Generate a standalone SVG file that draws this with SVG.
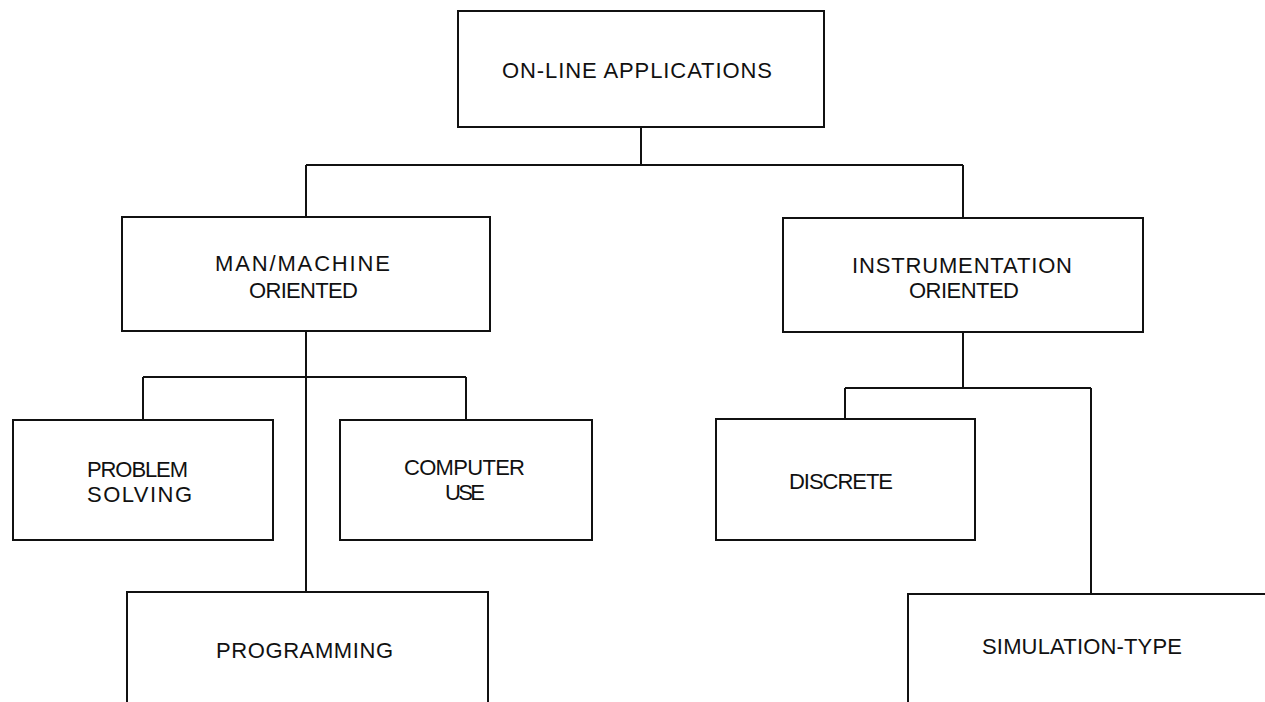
<svg xmlns="http://www.w3.org/2000/svg" width="1265" height="702" viewBox="0 0 1265 702">
<style>
.box{fill:#fff;stroke:#111;stroke-width:2}
.conn{fill:none;stroke:#111;stroke-width:2}
text{font-family:"Liberation Sans",Arial,sans-serif;font-size:22px;fill:#111;text-anchor:middle;dominant-baseline:central;lengthAdjust:spacing}
</style>
<rect width="1265" height="702" fill="#fff"/>
<g id="connectors" class="conn">
<path d="M641,127 V165 M306,165 H963 M306,165 V217 M963,165 V218"/>
<path d="M306,331 V592 M143,377 H466 M143,377 V420 M466,377 V420"/>
<path d="M963,332 V388 M845,388 H1091 M845,388 V419 M1091,388 V594"/>
</g>
<g id="online">
<rect class="box" x="458" y="11" width="366" height="116"/>
<text x="637" y="70" textLength="270" lengthAdjust="spacing">ON-LINE  APPLICATIONS</text>
</g>
<g id="manmachine">
<rect class="box" x="122" y="217" width="368" height="114"/>
<text x="302.5" y="263" textLength="175" lengthAdjust="spacing">MAN/MACHINE</text>
<text x="303.5" y="290" textLength="109" lengthAdjust="spacing">ORIENTED</text>
</g>
<g id="instrumentation">
<rect class="box" x="783" y="218" width="360" height="114"/>
<text x="962" y="265" textLength="220" lengthAdjust="spacing">INSTRUMENTATION</text>
<text x="964" y="290" textLength="110" lengthAdjust="spacing">ORIENTED</text>
</g>
<g id="problem">
<rect class="box" x="13" y="420" width="260" height="120"/>
<text x="137.5" y="469" textLength="101" lengthAdjust="spacing">PROBLEM</text>
<text x="139.5" y="494" textLength="105" lengthAdjust="spacing">SOLVING</text>
</g>
<g id="computer">
<rect class="box" x="340" y="420" width="252" height="120"/>
<text x="464.5" y="467" textLength="121" lengthAdjust="spacing">COMPUTER</text>
<text x="465" y="492" textLength="40" lengthAdjust="spacing">USE</text>
</g>
<g id="discrete">
<rect class="box" x="716" y="419" width="259" height="121"/>
<text x="841" y="481" textLength="104" lengthAdjust="spacing">DISCRETE</text>
</g>
<g id="programming">
<rect class="box" x="127" y="592" width="361" height="130"/>
<text x="304.5" y="650" textLength="177" lengthAdjust="spacing">PROGRAMMING</text>
</g>
<g id="simulation">
<rect class="box" x="908" y="594" width="380" height="130"/>
<text x="1082" y="646" textLength="200" lengthAdjust="spacing">SIMULATION-TYPE</text>
</g>
</svg>
